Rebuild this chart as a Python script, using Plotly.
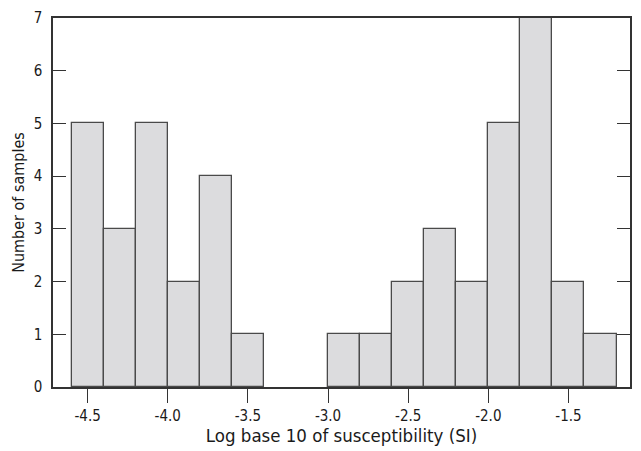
import plotly.graph_objects as go

bin_left = [-4.6, -4.4, -4.2, -4.0, -3.8, -3.6, -3.4, -3.2, -3.0, -2.8, -2.6, -2.4, -2.2, -2.0, -1.8, -1.6, -1.4]
counts = [5, 3, 5, 2, 4, 1, 0, 0, 1, 1, 2, 3, 2, 5, 7, 2, 1]
bin_width = 0.2
x_ticks = [-4.5, -4.0, -3.5, -3.0, -2.5, -2.0, -1.5]
y_ticks = [0, 1, 2, 3, 4, 5, 6, 7]

# empty bins are not drawn (no outline on the axis)
centers = [b + bin_width / 2 for b, c in zip(bin_left, counts) if c > 0]
heights = [c for c in counts if c > 0]

FONT = "DejaVu Sans Condensed, Liberation Sans Narrow, Roboto, sans-serif"

fig = go.Figure(go.Bar(
    x=centers, y=heights, width=bin_width,
    marker=dict(color="#dcdcde", line=dict(color="#4a4a4a", width=1.3)),
))

fig.update_layout(
    width=641, height=451,
    margin=dict(l=53, r=9, t=16, b=61),
    paper_bgcolor="white", plot_bgcolor="white",
    showlegend=False,
    font=dict(family=FONT, color="#1a1a1a", size=15),
    bargap=0,
)
fig.update_xaxes(
    range=[-4.716, -1.116], tickvals=x_ticks,
    ticktext=[f"{v:.1f}" for v in x_ticks],
    ticks="outside", ticklen=14, tickwidth=1.3, tickcolor="#333",
    showline=True, linecolor="#333", linewidth=1.5, mirror=True,
    showgrid=False, zeroline=False,
    title=dict(text="Log base 10 of susceptibility (SI)", font=dict(size=18.5), standoff=4),
    tickfont=dict(size=15),
)
fig.update_yaxes(
    range=[0, 7], tickvals=y_ticks,
    ticks="inside", ticklen=13, tickwidth=1.3, tickcolor="#333",
    showline=True, linecolor="#333", linewidth=1.5, mirror="ticks",
    showgrid=False, zeroline=False, ticklabelstandoff=6,
    title=dict(text="Number of samples", font=dict(size=16), standoff=5),
    tickfont=dict(size=15),
)

fig.write_html("out.html")
